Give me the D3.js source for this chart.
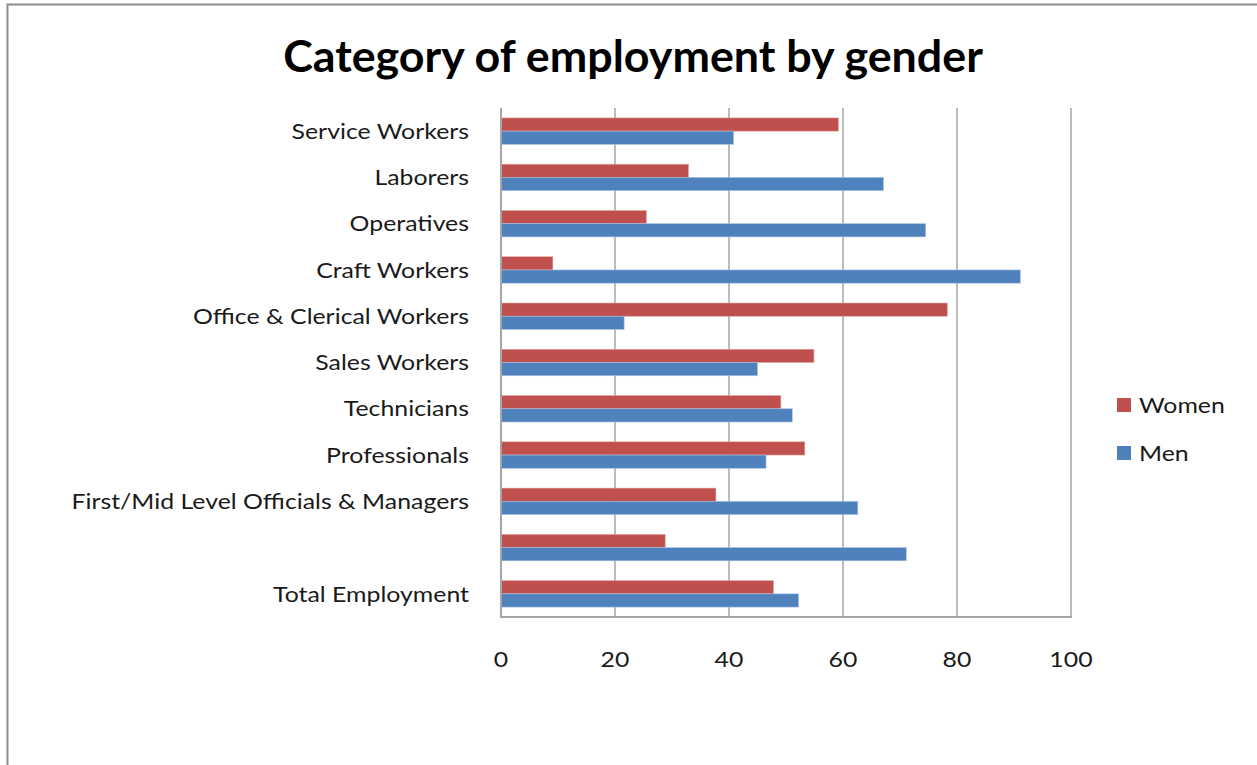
<!DOCTYPE html>
<html>
<head>
<meta charset="utf-8">
<script src="https://cdn.jsdelivr.net/npm/d3@7"></script>
<style>
  html, body { margin: 0; padding: 0; background: #fff; }
  svg { display: block; }
  text { font-family: Lato, "Open Sans", sans-serif; }
</style>
</head>
<body>
<svg id="chart" width="1257" height="765"></svg>
<script>
// Data (top to bottom as displayed)
const categories = [
  "Service Workers", "Laborers", "Operatives", "Craft Workers",
  "Office & Clerical Workers", "Sales Workers", "Technicians", "Professionals",
  "First/Mid Level Officials & Managers", "", "Total Employment"
];
const women = [59.2, 32.9, 25.5, 9.1, 78.3, 54.9, 49.1, 53.3, 37.7, 28.8, 47.8];
const men   = [40.8, 67.1, 74.5, 91.1, 21.6, 45.0, 51.1, 46.5, 62.6, 71.1, 52.2];
const seriesNames = ["Women", "Men"];
const seriesColors = ["#C0504D", "#4F81BD"];
const xTicks = [0, 20, 40, 60, 80, 100];
const title = "Category of employment by gender";

const svg = d3.select("#chart");
const FS = 22, SX = 1.13;

// outer frame
svg.append("rect").attr("x", 7.5).attr("y", 4.5).attr("width", 1300).attr("height", 800)
  .attr("fill", "none").attr("stroke", "#8c8c8c").attr("stroke-width", 2);

const plot = {left: 501, right: 1071, top: 108, bottom: 617};

const x = d3.scaleLinear().domain([0, 100]).range([plot.left, plot.right]);
const y = d3.scaleBand().domain(d3.range(categories.length))
  .range([plot.top, plot.bottom]).paddingInner(0.4286).paddingOuter(0.2143);
const sub = d3.scaleBand().domain([0, 1]).range([0, y.bandwidth()]);

// gridlines
svg.append("g").selectAll("line").data(xTicks.slice(1)).join("line")
  .attr("x1", d => x(d)).attr("x2", d => x(d))
  .attr("y1", plot.top).attr("y2", plot.bottom)
  .attr("stroke", "#a6a6a6").attr("stroke-width", 1.5);

// bars
const data = [women, men];
const gBars = svg.append("g");
data.forEach((vals, si) => {
  gBars.selectAll(null).data(vals).join("rect")
    .attr("x", x(0))
    .attr("y", (d, i) => y(i) + sub(si))
    .attr("width", d => x(d) - x(0))
    .attr("height", sub.bandwidth())
    .attr("fill", seriesColors[si])
    .attr("stroke", si === 0 ? "#e3a3a1" : "#a9c1e2")
    .attr("stroke-width", 0.6);
});

// axes lines
svg.append("line").attr("x1", plot.left).attr("x2", plot.left)
  .attr("y1", plot.top).attr("y2", plot.bottom + 1)
  .attr("stroke", "#a6a6a6").attr("stroke-width", 2);
svg.append("line").attr("x1", plot.left).attr("x2", plot.right + 1)
  .attr("y1", plot.bottom).attr("y2", plot.bottom)
  .attr("stroke", "#a6a6a6").attr("stroke-width", 2);

// category labels
svg.append("g").selectAll("text").data(categories).join("text")
  .attr("transform", (d, i) => `translate(469,${y(i) + y.bandwidth() / 2}) scale(${SX},1)`)
  .attr("dy", "0.35em")
  .attr("text-anchor", "end")
  .attr("font-size", FS)
  .attr("fill", "#1a1a1a")
  .text(d => d);

// x tick labels
svg.append("g").selectAll("text").data(xTicks).join("text")
  .attr("transform", d => `translate(${x(d)},659) scale(${SX},1)`)
  .attr("dy", "0.35em")
  .attr("text-anchor", "middle")
  .attr("font-size", FS)
  .attr("fill", "#1a1a1a")
  .text(d => d);

// title
const t = svg.append("text")
  .attr("x", 633).attr("y", 72)
  .attr("text-anchor", "middle")
  .attr("font-weight", "bold")
  .attr("font-size", 40)
  .attr("fill", "#000")
  .text(title);
const len = t.node().getComputedTextLength();
t.attr("font-size", 40 * 700 / len);

// legend
const lg = svg.append("g");
seriesNames.forEach((name, i) => {
  const ly = 405 + i * 48;
  lg.append("rect").attr("x", 1117).attr("y", ly - 7).attr("width", 14).attr("height", 14)
    .attr("fill", seriesColors[i]);
  lg.append("text").attr("transform", `translate(1139,${ly}) scale(${SX},1)`).attr("dy", "0.35em")
    .attr("font-size", FS).attr("fill", "#1a1a1a").text(name);
});
</script>
</body>
</html>
